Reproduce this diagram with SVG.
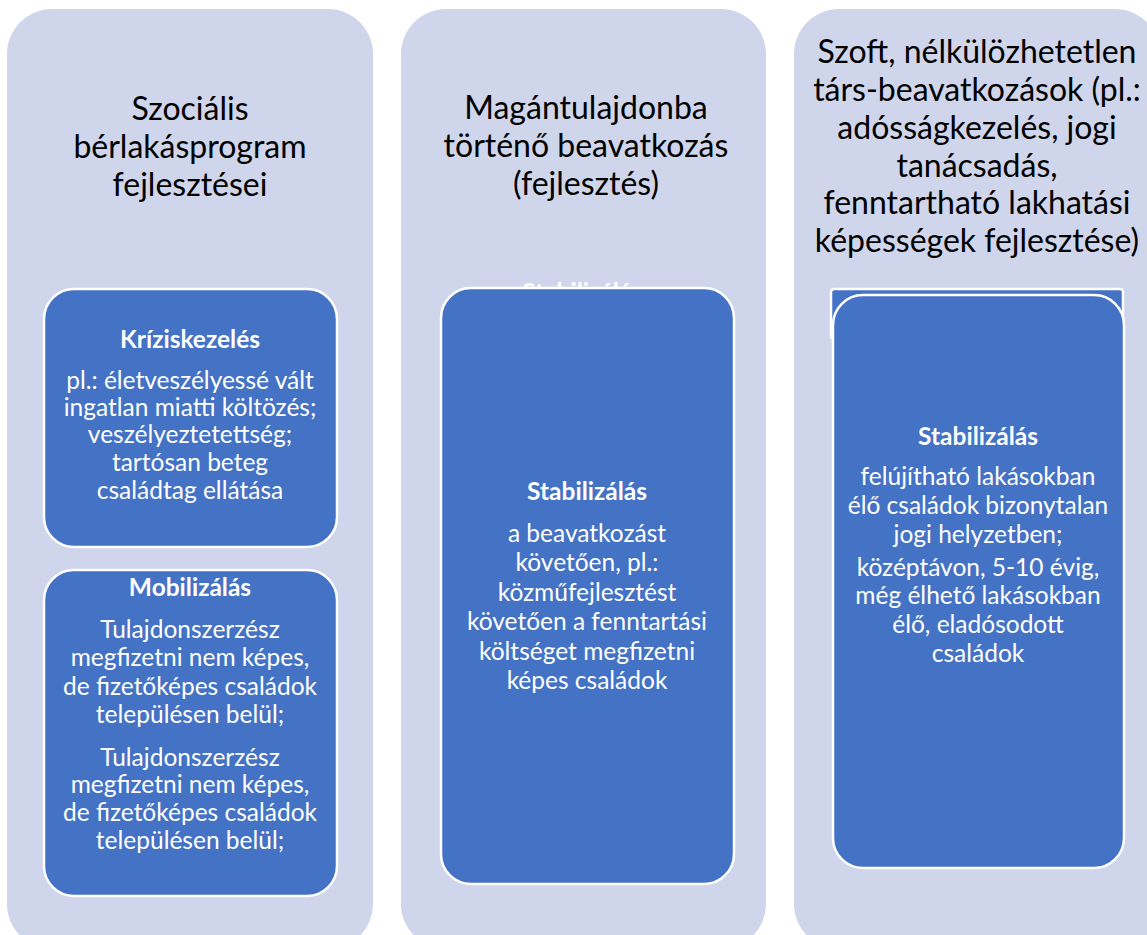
<svg xmlns="http://www.w3.org/2000/svg" width="1147" height="935" viewBox="0 0 1147 935">
<style>
.panel{fill:#CFD5EA}
.box{fill:#4472C4;stroke:#FFFFFF;stroke-width:2.5}
.h{font-family:Lato,"Open Sans",sans-serif;font-size:32px;fill:#000;text-anchor:middle}
.t{font-family:Lato,"Open Sans",sans-serif;font-size:24.5px;fill:#FFF;text-anchor:middle;font-weight:bold}
.b{font-family:Lato,"Open Sans",sans-serif;font-size:24.5px;fill:#FFF;text-anchor:middle}
</style>
<rect width="1147" height="935" fill="#FFFFFF"/>
<g id="col1">
<rect class="panel" x="7" y="9" width="366" height="940" rx="45"/>
<text class="h"><tspan x="190" y="120">Szociális</tspan><tspan x="190" y="158">bérlakásprogram</tspan><tspan x="190" y="196">fejlesztései</tspan></text>
</g>
<g id="krizis">
<rect class="box" x="44" y="289" width="293" height="258" rx="30"/>
<text class="t" x="190" y="348">Kríziskezelés</text>
<text class="b"><tspan x="190" y="389">pl.: életveszélyessé vált</tspan><tspan x="190" y="416">ingatlan miatti költözés;</tspan><tspan x="190" y="443">veszélyeztetettség;</tspan><tspan x="190" y="471">tartósan beteg</tspan><tspan x="190" y="499">családtag ellátása</tspan></text>
</g>
<g id="mobil">
<rect class="box" x="44" y="570" width="293" height="326" rx="30"/>
<text class="t" x="190" y="596">Mobilizálás</text>
<text class="b"><tspan x="190" y="638">Tulajdonszerzész</tspan><tspan x="190" y="666">megfizetni nem képes,</tspan><tspan x="190" y="695">de fizetőképes családok</tspan><tspan x="190" y="723">településen belül;</tspan><tspan x="190" y="766">Tulajdonszerzész</tspan><tspan x="190" y="793">megfizetni nem képes,</tspan><tspan x="190" y="821">de fizetőképes családok</tspan><tspan x="190" y="849">településen belül;</tspan></text>
</g>
<g id="col2">
<rect class="panel" x="401" y="9" width="365" height="940" rx="45"/>
<text class="h"><tspan x="586" y="119">Magántulajdonba</tspan><tspan x="586" y="157">történő beavatkozás</tspan><tspan x="586" y="195">(fejlesztés)</tspan></text>
<text class="t" x="582" y="301">Stabilizálás</text>
</g>
<g id="stab2">
<rect class="box" x="441" y="288" width="293" height="596" rx="30"/>
<text class="t" x="587" y="500">Stabilizálás</text>
<text class="b"><tspan x="587" y="542">a  beavatkozást</tspan><tspan x="587" y="571">követően, pl.:</tspan><tspan x="587" y="601">közműfejlesztést</tspan><tspan x="587" y="630">követően a fenntartási</tspan><tspan x="587" y="660">költséget megfizetni</tspan><tspan x="587" y="689">képes családok</tspan></text>
</g>
<g id="col3">
<rect class="panel" x="794" y="9" width="366" height="940" rx="45"/>
<text class="h"><tspan x="977" y="63">Szoft, nélkülözhetetlen</tspan><tspan x="977" y="101">társ-beavatkozások (pl.:</tspan><tspan x="977" y="139">adósságkezelés, jogi</tspan><tspan x="977" y="177">tanácsadás,</tspan><tspan x="977" y="214">fenntartható lakhatási</tspan><tspan x="977" y="252">képességek fejlesztése)</tspan></text>
</g>
<g id="stab3">
<rect class="box" x="831" y="289" width="292" height="50" rx="3"/>
<rect class="box" x="833" y="295" width="291" height="573" rx="30"/>
<text class="t" x="978" y="445">Stabilizálás</text>
<text class="b"><tspan x="978" y="485">felújítható lakásokban</tspan><tspan x="978" y="514">élő családok bizonytalan</tspan><tspan x="978" y="543">jogi helyzetben;</tspan><tspan x="978" y="576">középtávon, 5-10 évig,</tspan><tspan x="978" y="604">még élhető lakásokban</tspan><tspan x="978" y="633">élő, eladósodott</tspan><tspan x="978" y="662">családok</tspan></text>
</g>
<g id="connectors"></g>
</svg>
